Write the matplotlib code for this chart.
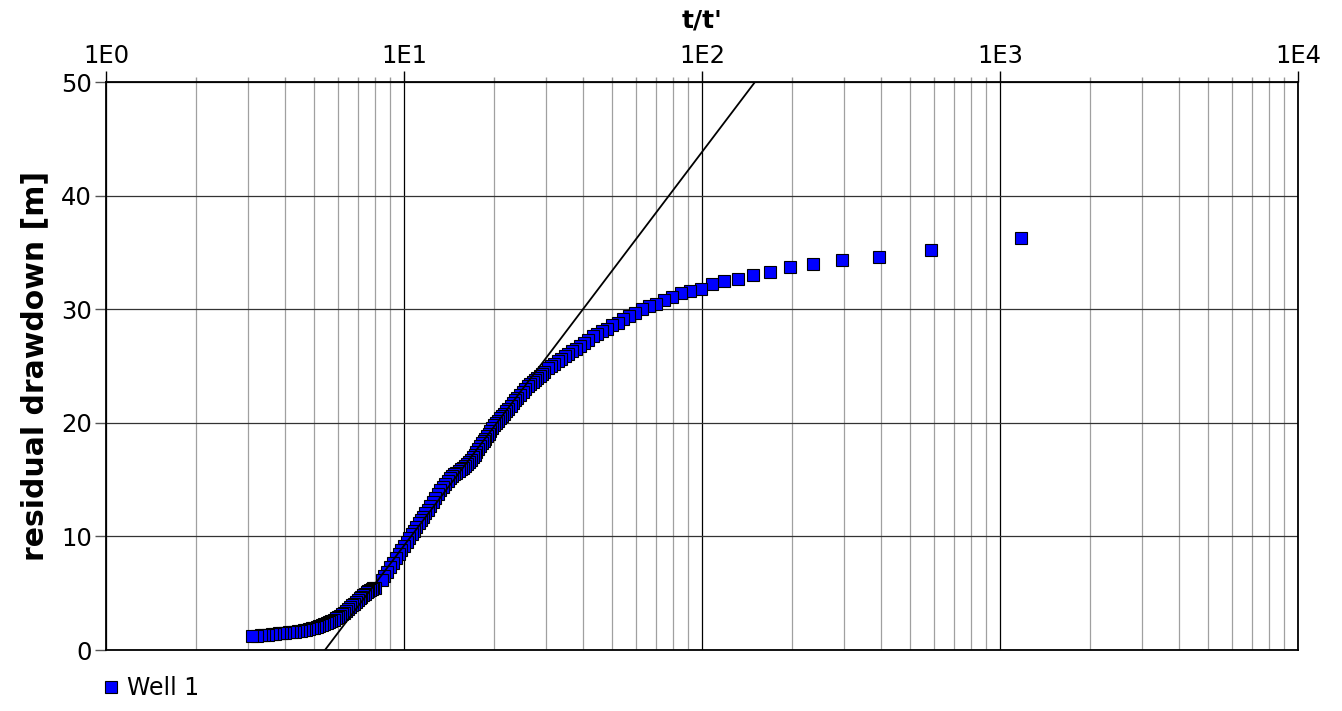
import matplotlib
matplotlib.use("Agg")
import matplotlib.pyplot as plt
from matplotlib.ticker import FixedLocator, NullFormatter

# ---------------- data ----------------
t_ratio = [
    3.10, 3.20, 3.30, 3.40, 3.50, 3.60, 3.70, 3.80, 3.90, 4.00,
    4.10, 4.20, 4.30, 4.40, 4.50, 4.60, 4.70, 4.80, 4.90, 5.00,
    5.10, 5.20, 5.30, 5.40, 5.50, 5.60, 5.70, 5.80, 5.90, 6.00,
    6.10, 6.20, 6.30, 6.40, 6.50, 6.60, 6.70, 6.80, 6.90, 7.00,
    7.10, 7.20, 7.30, 7.40, 7.50, 7.60, 7.70, 7.80, 7.90, 8.00,
    8.44, 8.60, 8.80, 9.00, 9.20, 9.40, 9.60, 9.80, 10.0, 10.2,
    10.4, 10.6, 10.8, 11.0, 11.2, 11.4, 11.6, 11.8, 12.0, 12.25,
    12.5, 12.75, 13.0, 13.25, 13.5, 13.75, 14.0, 14.25, 14.5, 14.75,
    15.0, 15.25, 15.5, 15.75, 16.0, 16.25, 16.5, 16.75, 17.0, 17.25,
    17.5, 17.75, 18.0, 18.25, 18.5, 18.75, 19.0, 19.25, 19.5, 19.75,
    20.0, 20.33, 20.67, 21.0, 21.33, 21.67, 22.0, 22.4, 22.8, 23.2,
    23.6, 24.0, 24.5, 25.0, 25.5, 26.0, 26.5, 27.0, 27.5, 28.0,
    28.5, 29.0, 29.5, 30.4, 31.1, 31.9, 32.8, 33.6, 34.6, 35.6,
    36.6, 37.7, 38.9, 40.2, 41.5, 43.0, 44.5, 46.2, 48.0, 50.0,
    52.1, 54.4, 57.0, 59.8, 62.8, 66.3, 70.1, 74.4, 79.3, 84.9,
    91.4, 98.9, 107.8, 118.5, 131.6, 147.9, 168.9, 196.8, 236.0, 294.8,
    392.7, 588.5, 1176.0,
]
drawdown = [
    1.20, 1.25, 1.28, 1.32, 1.36, 1.40, 1.43, 1.46, 1.49, 1.52,
    1.55, 1.58, 1.62, 1.66, 1.70, 1.74, 1.79, 1.84, 1.90, 1.96,
    2.03, 2.10, 2.18, 2.26, 2.35, 2.45, 2.56, 2.67, 2.78, 2.90,
    3.03, 3.16, 3.30, 3.45, 3.60, 3.76, 3.92, 4.08, 4.24, 4.40,
    4.55, 4.70, 4.84, 4.97, 5.08, 5.18, 5.27, 5.35, 5.43, 5.50,
    6.20, 6.55, 6.90, 7.30, 7.70, 8.10, 8.45, 8.80, 9.15, 9.50,
    9.85, 10.2, 10.5, 10.85, 11.15, 11.45, 11.75, 12.05, 12.35, 12.7,
    13.05, 13.4, 13.75, 14.05, 14.35, 14.6, 14.85, 15.1, 15.3, 15.45,
    15.6, 15.75, 15.9, 16.05, 16.2, 16.35, 16.55, 16.75, 16.95, 17.2,
    17.45, 17.7, 17.95, 18.2, 18.4, 18.6, 18.85, 19.05, 19.3, 19.55,
    19.8, 20.0, 20.2, 20.4, 20.6, 20.8, 21.0, 21.25, 21.5, 21.75,
    22.0, 22.2, 22.45, 22.7, 22.95, 23.2, 23.4, 23.6, 23.75, 23.9,
    24.1, 24.3, 24.45, 24.8, 25.0, 25.2, 25.4, 25.6, 25.9, 26.1,
    26.3, 26.5, 26.8, 27.0, 27.3, 27.6, 27.8, 28.1, 28.3, 28.6,
    28.8, 29.1, 29.4, 29.7, 30.0, 30.3, 30.5, 30.8, 31.1, 31.4,
    31.6, 31.8, 32.2, 32.5, 32.7, 33.0, 33.3, 33.7, 34.0, 34.3,
    34.6, 35.2, 36.3,
]
# straight-line fit shown on the chart (end points)
fit_t = [5.43, 150.6]
fit_s = [0.0, 50.0]

x_ticks = [1, 10, 100, 1000, 10000]
x_tick_labels = ["1E0", "1E1", "1E2", "1E3", "1E4"]
y_ticks = [0, 10, 20, 30, 40, 50]
series_name = "Well 1"

# ---------------- figure ----------------
W, H = 1342, 711
fig = plt.figure(figsize=(W / 100, H / 100), dpi=100)
ax = fig.add_axes([106 / W, 1 - 650 / H, (1298 - 106) / W, (650 - 82) / H])

ax.set_xscale("log")
ax.set_xlim(1, 10000)
ax.set_ylim(0, 50)

# markers: plotted in recording order (decreasing t/t')
ax.plot(t_ratio[::-1], drawdown[::-1], ls="none", marker="s", ms=8.6,
        mfc="#0000FF", mec="black", mew=0.8, zorder=3, label=series_name)
ax.plot(fit_t, fit_s, color="black", lw=1.3, zorder=4)

# x axis on top
ax.xaxis.tick_top()
ax.xaxis.set_label_position("top")
ax.xaxis.set_major_locator(FixedLocator(x_ticks))
ax.set_xticklabels(x_tick_labels)
minors = [m * 10 ** d for d in range(4) for m in range(2, 10)]
ax.xaxis.set_minor_locator(FixedLocator(minors))
ax.xaxis.set_minor_formatter(NullFormatter())
ax.tick_params(axis="x", which="major", direction="out", length=8, width=1,
               color="black", labelsize=17.5, pad=2)
ax.tick_params(axis="x", which="minor", direction="out", length=3.8, width=1,
               color="#999999")
ax.set_yticks(y_ticks)
ax.tick_params(axis="y", which="major", direction="out", length=8, width=1,
               color="#555555", labelsize=17.5, pad=2)

ax.grid(which="major", axis="x", color="black", lw=0.9, zorder=1)
ax.grid(which="minor", axis="x", color="#a0a0a0", lw=0.9, zorder=1)
ax.grid(which="major", axis="y", color="#333333", lw=0.9, zorder=1)
ax.set_axisbelow(True)
for sp in ax.spines.values():
    sp.set_color("black")
    sp.set_linewidth(1.3)

ax.set_xlabel("t/t'", fontsize=18, fontweight="bold", labelpad=12)
ax.set_ylabel("residual drawdown [m]", fontsize=21.5, fontweight="bold", labelpad=9)

leg = ax.legend(loc="center left", bbox_to_anchor=(102 / W, 1 - 688 / H),
                bbox_transform=fig.transFigure, frameon=False, fontsize=17,
                handlelength=0.8, handletextpad=0.25, borderpad=0,
                borderaxespad=0, markerscale=1.0)

fig.savefig("out.png", dpi=100)
